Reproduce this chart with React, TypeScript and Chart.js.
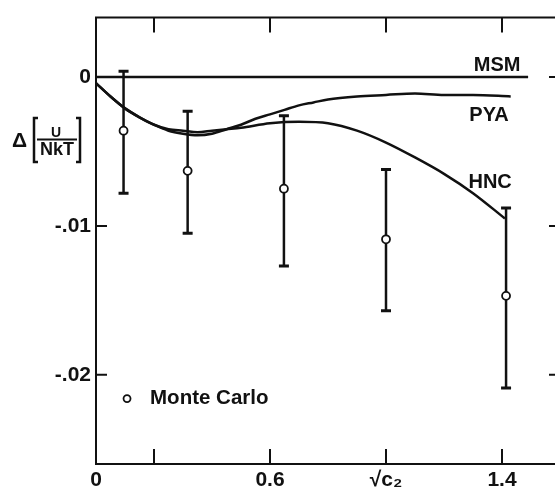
import React, { useEffect, useRef } from "react";
import { Chart, registerables } from "chart.js";

Chart.register(...registerables);

const xTicks = [0, 0.2, 0.6, 1.0, 1.4];
const xTickLabels = ["0", "", "0.6", "√c₂", "1.4"];
const yTicks = [0, -0.01, -0.02];
const yTickLabels = ["0", "-.01", "-.02"];

const msmX = [0, 1.49];
const msmY = [0, 0];

const pyaX = [0, 0.05, 0.1, 0.15, 0.2, 0.25, 0.3, 0.35, 0.4, 0.45, 0.5, 0.55, 0.6, 0.65, 0.7, 0.75, 0.8, 0.9, 1.0, 1.1, 1.2, 1.3, 1.43];
const pyaY = [-0.0004, -0.0013, -0.0021, -0.0027, -0.0032, -0.0036, -0.0038, -0.0039, -0.0038, -0.0035, -0.0032, -0.0028, -0.0025, -0.0022, -0.0019, -0.0017, -0.0015, -0.0013, -0.0012, -0.0011, -0.0012, -0.0012, -0.0013];

const hncX = [0, 0.05, 0.1, 0.15, 0.2, 0.25, 0.3, 0.35, 0.4, 0.45, 0.5, 0.6, 0.7, 0.8, 0.9, 1.0, 1.1, 1.2, 1.3, 1.41];
const hncY = [-0.0004, -0.0013, -0.0021, -0.0027, -0.0032, -0.0035, -0.0036, -0.0037, -0.0036, -0.0035, -0.0034, -0.0031, -0.003, -0.0031, -0.0036, -0.0044, -0.0054, -0.0065, -0.0078, -0.0095];

const mcX = [0.095, 0.316, 0.648, 1.0, 1.414];
const mcY = [-0.0036, -0.0063, -0.0075, -0.0109, -0.0147];
const mcHigh = [0.0004, -0.0023, -0.0026, -0.0062, -0.0088];
const mcLow = [-0.0078, -0.0105, -0.0127, -0.0157, -0.0209];

const curveNames = ["MSM", "PYA", "HNC"];
const curveLabelX = [1.383, 1.355, 1.359];
const curveLabelY = [0.0008, -0.0026, -0.0071];

const legendText = "Monte Carlo";
const legendX = 0.107;
const legendY = -0.0216;

const INK = "#111";
const FONT = "Liberation Sans, Arial, sans-serif";

const decorPlugin = {
  id: "decor",
  afterDatasetsDraw(chart: any) {
    const ctx = chart.ctx;
    const xs = chart.scales.x;
    const ys = chart.scales.y;
    const a = chart.chartArea;
    ctx.save();
    ctx.strokeStyle = INK;
    ctx.fillStyle = INK;
    // frame (left, top, bottom; right edge lies outside the picture)
    ctx.lineWidth = 2;
    ctx.beginPath();
    ctx.moveTo(a.right + 5, a.top);
    ctx.lineTo(a.left, a.top);
    ctx.lineTo(a.left, a.bottom);
    ctx.lineTo(a.right + 5, a.bottom);
    ctx.stroke();
    // inward ticks
    ctx.beginPath();
    xTicks.forEach((v) => {
      if (v === 0) return;
      const px = xs.getPixelForValue(v);
      ctx.moveTo(px, a.top);
      ctx.lineTo(px, a.top + 15);
      ctx.moveTo(px, a.bottom);
      ctx.lineTo(px, a.bottom - 15);
    });
    yTicks.forEach((v) => {
      const py = ys.getPixelForValue(v);
      ctx.moveTo(a.left, py);
      ctx.lineTo(a.left + 11, py);
      ctx.moveTo(a.right, py);
      ctx.lineTo(a.right - 11, py);
    });
    ctx.stroke();
    // error bars
    mcX.forEach((x, i) => {
      const px = xs.getPixelForValue(x);
      const pHi = ys.getPixelForValue(mcHigh[i]);
      const pLo = ys.getPixelForValue(mcLow[i]);
      ctx.lineWidth = 2.5;
      ctx.beginPath();
      ctx.moveTo(px, pHi);
      ctx.lineTo(px, pLo);
      ctx.stroke();
      ctx.lineWidth = 3;
      ctx.beginPath();
      ctx.moveTo(px - 5, pHi);
      ctx.lineTo(px + 5, pHi);
      ctx.moveTo(px - 5, pLo);
      ctx.lineTo(px + 5, pLo);
      ctx.stroke();
    });
    // points on top of bars
    mcX.forEach((x, i) => {
      const px = xs.getPixelForValue(x);
      const py = ys.getPixelForValue(mcY[i]);
      ctx.beginPath();
      ctx.arc(px, py, 4, 0, Math.PI * 2);
      ctx.fillStyle = "#fff";
      ctx.fill();
      ctx.lineWidth = 1.8;
      ctx.stroke();
    });
    ctx.fillStyle = INK;
    // curve labels
    ctx.font = `bold 20px ${FONT}`;
    ctx.textAlign = "center";
    ctx.textBaseline = "middle";
    curveNames.forEach((n, i) => {
      ctx.fillText(n, xs.getPixelForValue(curveLabelX[i]), ys.getPixelForValue(curveLabelY[i]));
    });
    // legend
    const lx = xs.getPixelForValue(legendX);
    const ly = ys.getPixelForValue(legendY);
    ctx.beginPath();
    ctx.arc(lx, ly, 3.5, 0, Math.PI * 2);
    ctx.lineWidth = 1.8;
    ctx.stroke();
    ctx.textAlign = "left";
    ctx.font = `bold 20.5px ${FONT}`;
    ctx.fillText(legendText, lx + 23, ly);
    // y axis title: Δ[U/NkT]
    ctx.font = `bold 21px ${FONT}`;
    ctx.textBaseline = "alphabetic";
    ctx.textAlign = "left";
    ctx.fillText("Δ", 12, 147);
    ctx.textAlign = "center";
    ctx.font = `bold 14px ${FONT}`;
    ctx.fillText("U", 56, 137);
    ctx.font = `bold 18px ${FONT}`;
    ctx.fillText("NkT", 57, 155);
    ctx.lineWidth = 2;
    ctx.beginPath();
    ctx.moveTo(37, 139.5);
    ctx.lineTo(77, 139.5);
    ctx.stroke();
    ctx.lineWidth = 2.5;
    ctx.beginPath();
    ctx.moveTo(38, 118);
    ctx.lineTo(34, 118);
    ctx.lineTo(34, 162);
    ctx.lineTo(38, 162);
    ctx.moveTo(76, 118);
    ctx.lineTo(80, 118);
    ctx.lineTo(80, 162);
    ctx.lineTo(76, 162);
    ctx.stroke();
    ctx.restore();
  },
};

export default function App() {
  const ref = useRef<HTMLCanvasElement>(null);
  useEffect(() => {
    if (!ref.current) return;
    const lineStyle = {
      borderColor: INK,
      borderWidth: 2.5,
      pointRadius: 0,
      fill: false,
      showLine: true,
      cubicInterpolationMode: "monotone" as const,
    };
    const chart = new Chart(ref.current, {
      type: "scatter",
      data: {
        datasets: [
          { ...lineStyle, label: "MSM", data: msmX.map((x, i) => ({ x, y: msmY[i] })) },
          { ...lineStyle, label: "PYA", data: pyaX.map((x, i) => ({ x, y: pyaY[i] })) },
          { ...lineStyle, label: "HNC", data: hncX.map((x, i) => ({ x, y: hncY[i] })) },
        ],
      },
      options: {
        animation: false,
        responsive: false,
        devicePixelRatio: 1,
        layout: { padding: { top: 12, right: 2, left: 0, bottom: 0 } },
        plugins: { legend: { display: false }, tooltip: { enabled: false } },
        scales: {
          x: {
            type: "linear",
            min: 0,
            max: 1.6,
            grid: { display: false, drawTicks: false },
            border: { display: false },
            afterBuildTicks: (s: any) => {
              s.ticks = xTicks.map((v) => ({ value: v }));
            },
            afterFit: (s: any) => {
              s.height = 29;
            },
            ticks: {
              autoSkip: false,
              maxRotation: 0,
              padding: 4,
              color: INK,
              font: { family: FONT, size: 21, weight: "bold" },
              callback: (_v: any, i: number) => xTickLabels[i],
            },
          },
          y: {
            type: "linear",
            min: -0.026,
            max: 0.004,
            grid: { display: false, drawTicks: false },
            border: { display: false },
            afterBuildTicks: (s: any) => {
              s.ticks = yTicks.map((v) => ({ value: v }));
            },
            afterFit: (s: any) => {
              s.width = 96;
            },
            ticks: {
              padding: 5,
              color: INK,
              font: { family: FONT, size: 21, weight: "bold" },
              callback: (_v: any, i: number) => yTickLabels[i],
            },
          },
        },
      },
      plugins: [decorPlugin],
    });
    return () => chart.destroy();
  }, []);
  return (
    <div style={{ position: "absolute", left: 0, top: 0, width: 555, height: 493, overflow: "hidden", background: "#fff" }}>
      <canvas ref={ref} width={562} height={493} style={{ display: "block", width: 562, height: 493 }} />
    </div>
  );
}
